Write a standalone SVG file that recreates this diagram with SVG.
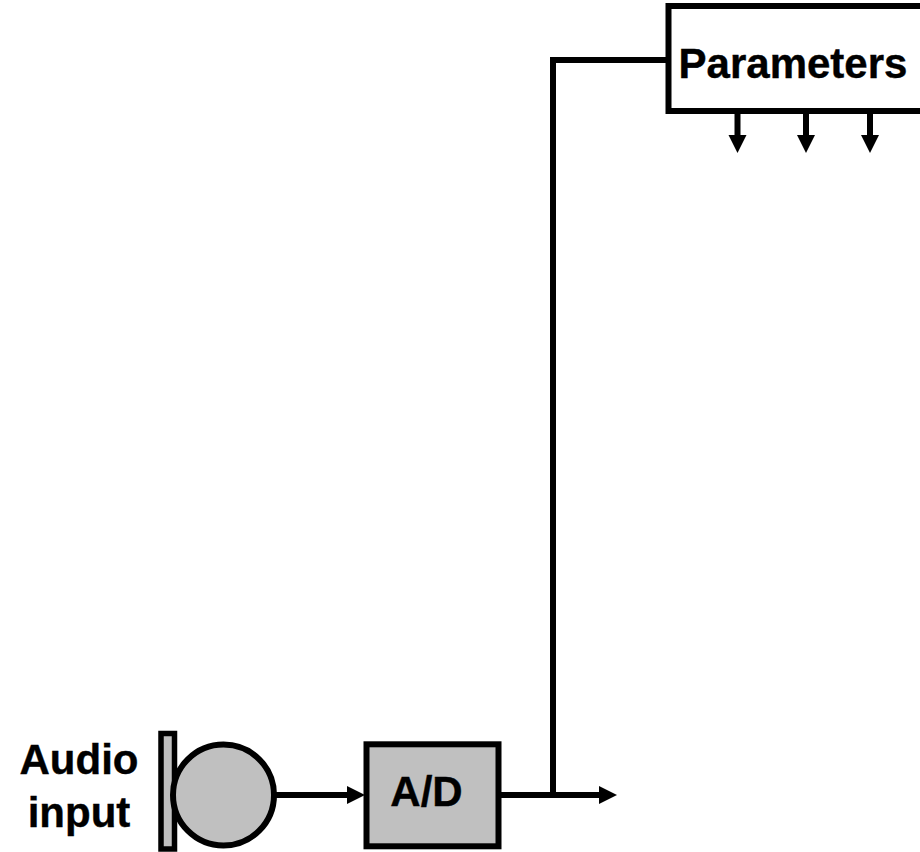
<svg xmlns="http://www.w3.org/2000/svg" width="920" height="852" viewBox="0 0 920 852">
<style>
.s{stroke:#000;stroke-width:6;fill:none}
.f{stroke:#000;stroke-width:6;fill:#c0c0c0}
.t{font-family:"Liberation Sans",Arial,sans-serif;font-weight:bold;font-size:42px;fill:#000;stroke:#000;stroke-width:0.4px;text-anchor:middle}
</style>
<defs>
<polygon id="ah" points="0,-9 18,0 0,9" fill="#000"/>
</defs>
<rect width="920" height="852" fill="#fff"/>
<g id="connectors">
<path class="s" d="M276,795H349"/>
<use href="#ah" x="347" y="795"/>
<path class="s" d="M501,795H600"/>
<use href="#ah" x="599" y="795"/>
<path class="s" d="M668,60H553V795"/>
<path class="s" d="M737.5,114V136"/>
<use href="#ah" transform="translate(737.5,135) rotate(90)"/>
<path class="s" d="M806,114V136"/>
<use href="#ah" transform="translate(806,135) rotate(90)"/>
<path class="s" d="M870,114V136"/>
<use href="#ah" transform="translate(870,135) rotate(90)"/>
</g>
<g id="audio-label">
<text class="t" x="79" y="774">Audio</text>
<text class="t" x="79" y="826.5">input</text>
</g>
<g id="microphone">
<rect class="f" style="stroke-width:5.5" x="161" y="733.5" width="13.5" height="115.5"/>
<circle class="f" cx="223.5" cy="795" r="50.5"/>
</g>
<g id="ad">
<rect class="f" x="366.5" y="744.3" width="132" height="102"/>
<text class="t" x="426.5" y="806">A/D</text>
</g>
<g id="parameters">
<rect class="s" style="fill:#fff" x="668.5" y="6" width="260" height="105"/>
<text class="t" x="793" y="78">Parameters</text>
</g>
</svg>
